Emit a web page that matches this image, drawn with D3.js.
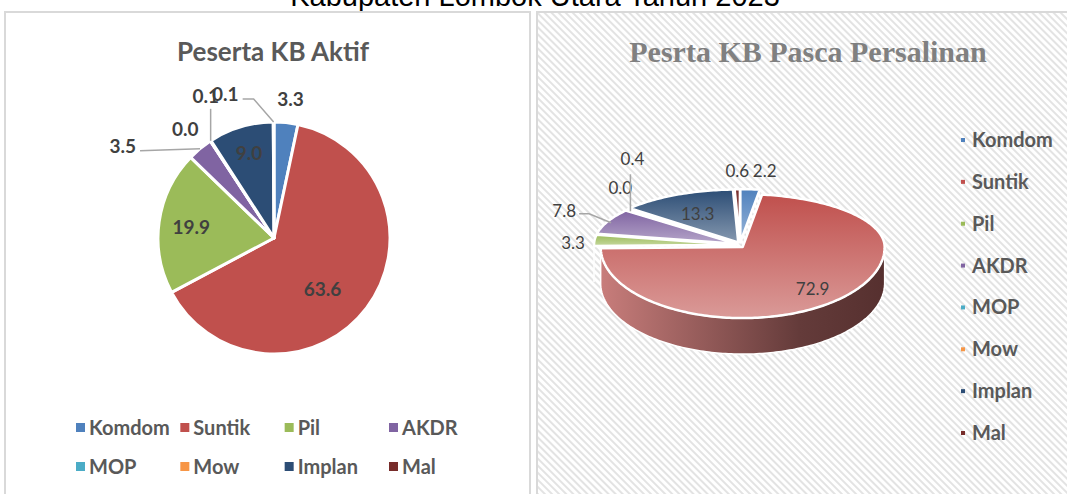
<!DOCTYPE html>
<html>
<head>
<meta charset="utf-8">
<script src="https://cdn.jsdelivr.net/npm/d3@7"></script>
<style>
  body { margin: 0; background: #fff; }
  svg { display: block; }
</style>
</head>
<body>
<svg width="1067" height="494"></svg>
<script>
// data
var categories = ["Komdom", "Suntik", "Pil", "AKDR", "MOP", "Mow", "Implan", "Mal"];
var aktifValues = [3.3, 63.6, 19.9, 3.5, 0.0, 0.1, 9.0, 0.1];
var pascaValues = [2.2, 72.9, 3.3, 7.8, 0.0, 0.4, 13.3, 0.6];
var pageTitle = "Kabupaten Lombok Utara Tahun 2023";
var leftTitle = "Peserta KB Aktif";
var rightTitle = "Pesrta KB Pasca Persalinan";

var colors = ["#4F81BD", "#C0504D", "#9BBB59", "#8064A2", "#4BACC6", "#F79646", "#2C4D75", "#772C2A"];
var color = d3.scaleOrdinal().domain(categories).range(colors);

var svg = d3.select("svg");
var defs = svg.append("defs");

// hatch for right panel
var hatch = defs.append("pattern")
    .attr("id", "hatch")
    .attr("patternUnits", "userSpaceOnUse")
    .attr("width", 5).attr("height", 5)
    .attr("patternTransform", "rotate(-45)");
hatch.append("rect").attr("width", 5).attr("height", 5).attr("fill", "#fff");
hatch.append("rect").attr("width", 2).attr("height", 5).attr("fill", "#e3e3e3");

// page title (cut off at the top)
svg.append("text")
    .attr("x", 535).attr("y", 6)
    .attr("text-anchor", "middle")
    .attr("font-family", "Liberation Sans, Arial, sans-serif")
    .attr("font-size", 29)
    .attr("fill", "#000")
    .text(pageTitle);

// panels
svg.append("rect")
    .attr("x", 5).attr("y", 12).attr("width", 525).attr("height", 500)
    .attr("fill", "#fff").attr("stroke", "#d9d9d9").attr("stroke-width", 2);
svg.append("rect")
    .attr("x", 537).attr("y", 12).attr("width", 540).attr("height", 500)
    .attr("fill", "url(#hatch)").attr("stroke", "#d9d9d9").attr("stroke-width", 2);

// ---------- left: flat pie ----------
var left = svg.append("g").attr("transform", "translate(274,238)");
var R = 116;

left.append("text")
    .attr("x", -1).attr("y", -177)
    .attr("text-anchor", "middle")
    .attr("font-family", "Lato, sans-serif")
    .attr("font-weight", "bold")
    .attr("font-size", 26)
    .attr("fill", "#595959")
    .text(leftTitle);

var pie = d3.pie().sort(null).value(function(d) { return d.v; });
var aktif = pie(categories.map(function(c, i) { return {c: c, v: aktifValues[i]}; }));
var arc = d3.arc().innerRadius(0).outerRadius(R);

left.selectAll("path.slice")
    .data(aktif)
    .enter().append("path")
    .attr("class", "slice")
    .attr("d", arc)
    .attr("fill", function(d) { return color(d.data.c); })
    .attr("stroke", "#fff")
    .attr("stroke-width", 3)
    .attr("stroke-linejoin", "round");

function polar(a, r) { return [r * Math.sin(a), -r * Math.cos(a)]; }
function mid(d) { return (d.startAngle + d.endAngle) / 2; }

// label layout: k = radius factor, dx/dy shift, lead = leader path offsets from the rim point
var leftLayout = {
  Komdom: {k: 1.2, dx: 2, dy: 6, anchor: "middle"},
  Suntik: {k: 0.6, dx: -7, dy: 16, anchor: "middle"},
  Pil:    {k: 0.72, dx: 0, dy: 8, anchor: "middle"},
  AKDR:   {k: 1, dx: -64, dy: 4, anchor: "end", lead: [[-60, 2]]},
  MOP:    {k: 1, dx: -25, dy: -5, anchor: "middle"},
  Mow:    {k: 1, dx: -5, dy: -38, anchor: "middle", lead: [[0, -32]]},
  Implan: {k: 0.78, dx: 1, dy: 9, anchor: "middle"},
  Mal:    {k: 1, dx: -35, dy: -21, anchor: "end", lead: [[-20, -23], [-31, -23]]}
};

aktif.forEach(function(d) {
  var L = leftLayout[d.data.c];
  var rim = polar(mid(d), R);
  if (L.lead) {
    var pts = [rim].concat(L.lead.map(function(o) { return [rim[0] + o[0], rim[1] + o[1]]; }));
    left.append("path")
        .attr("d", d3.line()(pts))
        .attr("fill", "none")
        .attr("stroke", "#a6a6a6")
        .attr("stroke-width", 1.5);
  }
  var p = polar(mid(d), R * L.k);
  left.append("text")
      .attr("x", p[0] + L.dx).attr("y", p[1] + L.dy)
      .attr("text-anchor", L.anchor)
      .attr("font-family", "Lato, sans-serif")
      .attr("font-weight", "bold")
      .attr("font-size", 19)
      .attr("fill", "#404040")
      .text(d3.format(".1f")(d.data.v));
});

// bottom legend, 2 rows x 4
var legL = svg.append("g").attr("transform", "translate(76,428)");
var colX = d3.scalePoint().domain(d3.range(4)).range([0, 313]);
var item = legL.selectAll("g").data(categories).enter().append("g")
    .attr("transform", function(d, i) { return "translate(" + colX(i % 4) + "," + (Math.floor(i / 4) * 39) + ")"; });
item.append("rect")
    .attr("x", 0).attr("y", -5).attr("width", 9).attr("height", 9)
    .attr("fill", function(d) { return color(d); });
item.append("text")
    .attr("x", 13).attr("y", 7)
    .attr("font-family", "Lato, sans-serif")
    .attr("font-weight", "bold")
    .attr("font-size", 20)
    .attr("fill", "#595959")
    .text(function(d) { return d; });

// ---------- right: 3D pie ----------
var right = svg.append("g");
right.append("text")
    .attr("x", 808).attr("y", 62)
    .attr("text-anchor", "middle")
    .attr("font-family", "Liberation Serif, serif")
    .attr("font-weight", "bold")
    .attr("font-size", 30)
    .attr("fill", "#808080")
    .text(rightTitle);

var cx = 740, cy = 245, rx = 142, ryTop = 53, ryBot = 71, depth = 36, explode = 4;
function proj(a, k) {
  var c = Math.cos(a);
  var ry = c > 0 ? ryTop : ryBot;
  return [cx + k * rx * Math.sin(a), cy - k * ry * c];
}

var pasca = pie(categories.map(function(c, i) { return {c: c, v: pascaValues[i]}; }));

categories.forEach(function(c, i) {
  var base = d3.color(colors[i]);
  var gt = defs.append("linearGradient").attr("id", "top" + i)
      .attr("x1", 0).attr("x2", 0).attr("y1", 0).attr("y2", 1);
  gt.append("stop").attr("offset", "0%").attr("stop-color", base.formatHex());
  gt.append("stop").attr("offset", "100%").attr("stop-color", d3.interpolateRgb(base, "#fff")(0.42));
  var gs = defs.append("linearGradient").attr("id", "side" + i)
      .attr("x1", 0).attr("x2", 1).attr("y1", 0).attr("y2", 0);
  gs.append("stop").attr("offset", "0%").attr("stop-color", d3.interpolateRgb(base, "#d8d0d0")(0.35));
  gs.append("stop").attr("offset", "70%").attr("stop-color", d3.interpolateRgb(base.darker(1.6), "#555")(0.35));
  gs.append("stop").attr("offset", "100%").attr("stop-color", d3.interpolateRgb(base.darker(2), "#444")(0.3));
});

function arcPoints(a0, a1, k) {
  var n = Math.max(2, Math.ceil((a1 - a0) / 0.02));
  return d3.range(n + 1).map(function(j) { return proj(a0 + (a1 - a0) * j / n, k); });
}
function shift(d) {
  var m = mid(d);
  return [explode * Math.sin(m), -explode * Math.cos(m) * 0.7];
}

// side walls (front half only)
pasca.forEach(function(d, i) {
  var a0 = Math.max(d.startAngle, Math.PI / 2);
  var a1 = Math.min(d.endAngle, 3 * Math.PI / 2);
  if (a1 <= a0) return;
  var top = arcPoints(a0, a1, 1);
  var bottom = top.map(function(p) { return [p[0], p[1] + depth]; }).reverse();
  var s = shift(d);
  right.append("path")
      .attr("d", d3.line()(top.concat(bottom)) + "Z")
      .attr("transform", "translate(" + s[0] + "," + s[1] + ")")
      .attr("fill", "url(#side" + i + ")")
      .attr("stroke", "#fff")
      .attr("stroke-width", 1.5);
});

// top faces
pasca.forEach(function(d, i) {
  if (d.endAngle - d.startAngle <= 0) return;
  var pts = [[cx, cy]].concat(arcPoints(d.startAngle, d.endAngle, 1));
  var s = shift(d);
  right.append("path")
      .attr("d", d3.line()(pts) + "Z")
      .attr("transform", "translate(" + s[0] + "," + s[1] + ")")
      .attr("fill", "url(#top" + i + ")")
      .attr("stroke", "#fff")
      .attr("stroke-width", 2.5)
      .attr("stroke-linejoin", "round");
});

var rightLayout = {
  Komdom: {k: 1.4, dx: 11, dy: 6, anchor: "middle"},
  Suntik: {k: 0.75, dx: 2, dy: 10, anchor: "middle"},
  Pil:    {k: 1.18, dx: 0, dy: 9, anchor: "middle"},
  AKDR:   {k: 1, dx: -35, dy: -6, anchor: "end", lead: [[-22, -9], [-32, -9]]},
  MOP:    {k: 1, dx: -9, dy: -18, anchor: "middle"},
  Mow:    {k: 1, dx: 2, dy: -46, anchor: "middle", lead: [[0, -37]]},
  Implan: {k: 0.6, dx: -5, dy: 4, anchor: "middle"},
  Mal:    {k: 1.4, dx: 1, dy: 6, anchor: "middle"}
};

pasca.forEach(function(d) {
  var L = rightLayout[d.data.c];
  var rim = proj(mid(d), 1);
  if (L.lead) {
    var pts = [rim].concat(L.lead.map(function(o) { return [rim[0] + o[0], rim[1] + o[1]]; }));
    right.append("path")
        .attr("d", d3.line()(pts))
        .attr("fill", "none")
        .attr("stroke", "#a6a6a6")
        .attr("stroke-width", 1.5);
  }
  var p = proj(mid(d), L.k);
  right.append("text")
      .attr("x", p[0] + L.dx).attr("y", p[1] + L.dy)
      .attr("text-anchor", L.anchor)
      .attr("font-family", "Lato, sans-serif")
      .attr("font-size", 17)
      .attr("fill", "#404040")
      .text(d3.format(".1f")(d.data.v));
});

// right legend, vertical
var legY = d3.scalePoint().domain(categories).range([140, 433]);
var ritem = svg.append("g").selectAll("g").data(categories).enter().append("g")
    .attr("transform", function(d) { return "translate(961," + legY(d) + ")"; });
ritem.append("rect")
    .attr("x", 0).attr("y", -2).attr("width", 4).attr("height", 4)
    .attr("fill", function(d) { return color(d); });
ritem.append("text")
    .attr("x", 11).attr("y", 7)
    .attr("font-family", "Lato, sans-serif")
    .attr("font-weight", "bold")
    .attr("font-size", 20)
    .attr("fill", "#595959")
    .text(function(d) { return d; });
</script>
</body>
</html>
